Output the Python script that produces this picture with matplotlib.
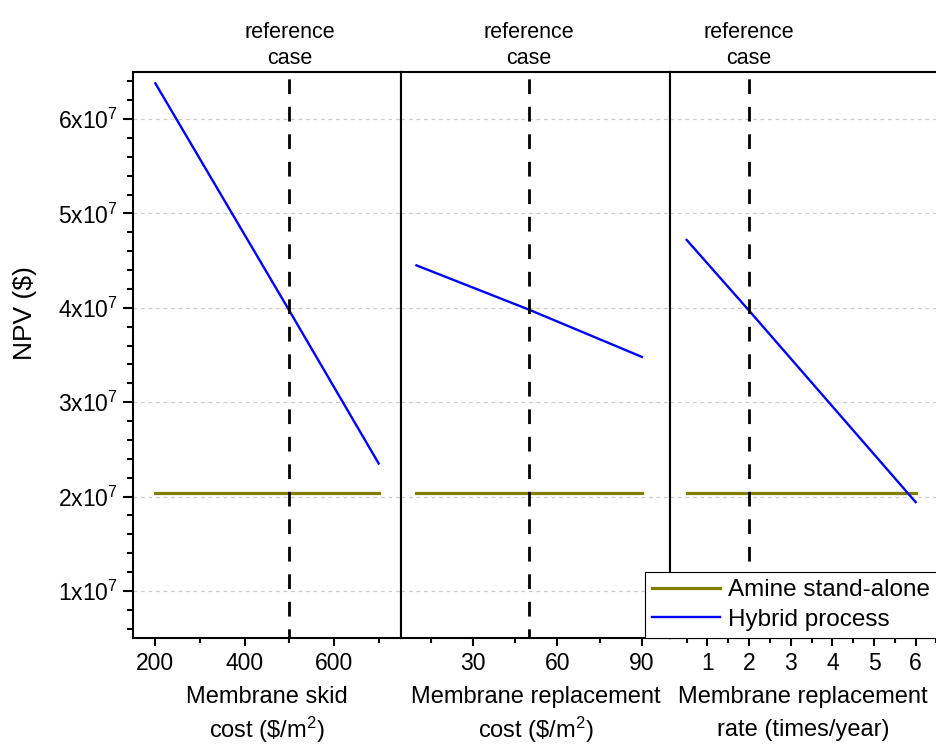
import matplotlib
matplotlib.use("Agg")
import matplotlib.pyplot as plt
from matplotlib.ticker import MultipleLocator, FixedLocator, FixedFormatter

plt.rcParams['font.family'] = ['Liberation Sans', 'DejaVu Sans']
plt.rcParams['mathtext.fontset'] = 'custom'
plt.rcParams['mathtext.rm'] = 'Liberation Sans'
plt.rcParams['mathtext.it'] = 'Liberation Sans'

# Panel 1: membrane skid cost ($/m2)
skid_x = [200, 500, 700]
skid_hybrid = [6.38e7, 3.97e7, 2.35e7]
skid_amine = [2.04e7, 2.04e7, 2.04e7]
skid_ref = 500

# Panel 2: membrane replacement cost ($/m2)
repc_x = [10, 50, 90]
repc_hybrid = [4.45e7, 3.98e7, 3.48e7]
repc_amine = [2.04e7, 2.04e7, 2.04e7]
repc_ref = 50

# Panel 3: membrane replacement rate (times/year)
rate_x = [0.5, 2, 6]
rate_hybrid = [4.72e7, 3.97e7, 1.94e7]
rate_amine = [2.04e7, 2.04e7, 2.04e7]
rate_ref = 2

y_ticks = [1e7, 2e7, 3e7, 4e7, 5e7, 6e7]
y_ticklabels = ['1x10$^{7}$', '2x10$^{7}$', '3x10$^{7}$', '4x10$^{7}$', '5x10$^{7}$', '6x10$^{7}$']

panels = [
    dict(x=skid_x, hy=skid_hybrid, am=skid_amine, ref=skid_ref, xlim=(150, 750),
         ticks=[200, 400, 600], minor=100, l1='Membrane skid', l2='cost (\\$/m$^{2}$)'),
    dict(x=repc_x, hy=repc_hybrid, am=repc_amine, ref=repc_ref, xlim=(4.5, 100),
         ticks=[30, 60, 90], minor=15, l1='Membrane replacement', l2='cost (\\$/m$^{2}$)'),
    dict(x=rate_x, hy=rate_hybrid, am=rate_amine, ref=rate_ref, xlim=(0.1, 6.5),
         ticks=[1, 2, 3, 4, 5, 6], minor=0.5, l1='Membrane replacement', l2='rate (times/year)'),
]

W, H = 937, 744
fig = plt.figure(figsize=(W / 100, H / 100), dpi=100)
bottom = 1 - 638 / H
top = 1 - 72 / H
edges = [133, 401, 670, 936.5]

axes = []
for i, p in enumerate(panels):
    ax = fig.add_axes([edges[i] / W, bottom, (edges[i + 1] - edges[i]) / W, top - bottom])
    axes.append(ax)
    la, = ax.plot(p['x'], p['am'], color='#808000', lw=2.3, label='Amine stand-alone', zorder=3)
    lh, = ax.plot(p['x'], p['hy'], color='#0000FF', lw=1.7, label='Hybrid process', zorder=3)
    ax.axvline(p['ref'], color='black', lw=2.0, ls=(2, (5.3, 4.6)), zorder=4)
    ax.set_xlim(*p['xlim'])
    ax.set_ylim(5e6, 6.5e7)
    ax.xaxis.set_major_locator(FixedLocator(p['ticks']))
    ax.xaxis.set_minor_locator(MultipleLocator(p['minor']))
    ax.annotate(p['l1'], xy=(0.5, 0), xycoords='axes fraction', xytext=(0, -59 * 0.72),
                textcoords='offset points', ha='center', va='center', fontsize=17)
    ax.annotate(p['l2'], xy=(0.5, 0), xycoords='axes fraction', xytext=(0, -92 * 0.72),
                textcoords='offset points', ha='center', va='center', fontsize=17)
    ax.yaxis.set_major_locator(FixedLocator(y_ticks))
    ax.yaxis.set_minor_locator(MultipleLocator(2e6))
    ax.grid(axis='y', which='major', color='#cccccc', ls=(0, (3, 3)), lw=0.9, zorder=0)
    for s in ax.spines.values():
        s.set_linewidth(1.5)
    ax.spines['right'].set_visible(i < 2)
    ax.tick_params(axis='x', which='major', direction='out', length=6, width=1.5, labelsize=16.5, pad=4)
    ax.tick_params(axis='x', which='minor', direction='out', length=3.5, width=1.5)
    if i == 0:
        ax.yaxis.set_major_formatter(FixedFormatter(y_ticklabels))
        ax.tick_params(axis='y', which='major', direction='out', length=7, width=1.5, labelsize=16.5)
        ax.tick_params(axis='y', which='minor', direction='out', length=4, width=1.5)
        ax.set_ylabel('NPV ($)', fontsize=19)
        ax.yaxis.set_label_coords(-0.36, 0.574)
    else:
        ax.tick_params(axis='y', which='both', left=False, labelleft=False)
    ax.text(p['ref'], 1.006, 'reference\ncase', transform=ax.get_xaxis_transform(),
            ha='center', va='bottom', fontsize=15.5, linespacing=1.3)

leg = fig.legend(handles=[la, lh], loc='lower right', bbox_to_anchor=(1.0, bottom),
                 fontsize=17.5, frameon=True, fancybox=False, edgecolor='black',
                 framealpha=1, borderaxespad=0, handlelength=2.8, handletextpad=0.3,
                 borderpad=0.3, labelspacing=0.3)
leg.get_frame().set_linewidth(0.8)
leg.set_zorder(10)

fig.savefig('out.png', dpi=100)
